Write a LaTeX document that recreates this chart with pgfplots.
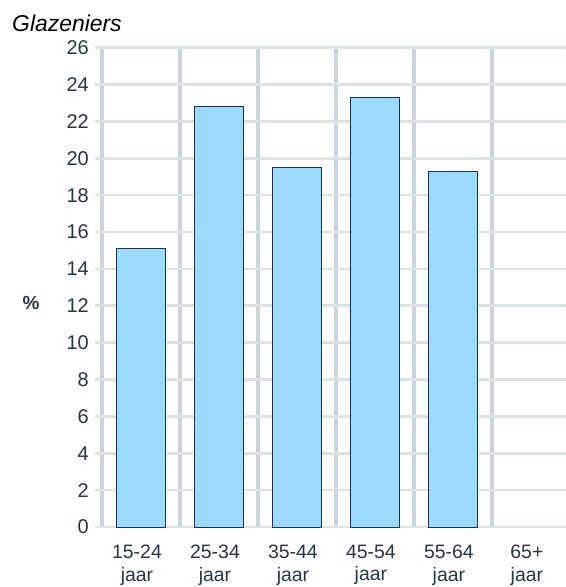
\documentclass[border=0pt]{standalone}
\usepackage{fontspec}
\setmainfont{Liberation Sans}
\usepackage{pgfplots}
\pgfplotsset{compat=1.18}
\definecolor{barfill}{HTML}{9BDAFC}
\definecolor{barline}{HTML}{1C3350}
\definecolor{gridv}{HTML}{CBD6DC}
\definecolor{gridh}{HTML}{DCE3E7}
\definecolor{axisc}{HTML}{8C8C8C}
\definecolor{labc}{HTML}{24364A}

\begin{document}
\begin{tikzpicture}
\begin{axis}[
  scale only axis,
  width=464bp, height=479.3bp,
  ymin=0, ymax=26, ytick={0,2,...,26},
  xmin=-0.5, xmax=5.45,
  xtick={0,...,5},
  xticklabels={{15-24\\jaar},{25-34\\jaar},{35-44\\jaar},{45-54\\jaar},{55-64\\jaar},{65+\\jaar}},
  minor xtick={-0.5,0.5,...,4.5},
  xminorgrids=true, ymajorgrids=true,
  minor x grid style={color=gridv, line width=3.5bp},
  major y grid style={color=gridh, line width=2.6bp},
  axis line style={draw=none},
  ytick pos=left, tick align=outside,
  major tick length=7bp,
  ytick style={color=gridh, line width=2.6bp},
  xtick style={draw=none}, minor tick style={draw=none},
  extra y ticks={0,26}, extra y tick labels={},
  extra y tick style={grid style={color=axisc, line width=1.3bp},
    tick style={color=axisc, line width=1.3bp}},
  /pgf/number format/assume math mode=true,
  % --- Beschriftungen -----------------------------------
  yticklabel style={font=\fontsize{20}{24}\selectfont, text=labc, anchor=east, inner sep=0pt, xshift=-6bp},
  xticklabel style={font=\fontsize{19.5}{23}\selectfont, text=labc, align=center, anchor=north, inner sep=0pt, yshift=-10.5bp, xshift=-4bp},
  ylabel={\textbf{\%}},
  ylabel style={at={(axis description cs:-0.153,0.467)}, rotate=-90, anchor=center,
    font=\fontsize{19}{22}\selectfont, text=labc},
  title={\itshape Glazeniers},
  title style={at={(axis description cs:-0.194,1.021)}, anchor=base west, inner sep=0pt,
    font=\fontsize{23}{26}\selectfont},
]
% Anteil je Altersgruppe
\addplot[ybar, bar width=0.64, fill=barfill, draw=barline, line width=0.9bp]
  coordinates {(0,15.1) (1,22.8) (2,19.5) (3,23.3) (4,19.3)};
\end{axis}
\pgfresetboundingbox
\path[use as bounding box] (-102bp,-60bp) rectangle (464bp,527bp);
\end{tikzpicture}
\end{document}
